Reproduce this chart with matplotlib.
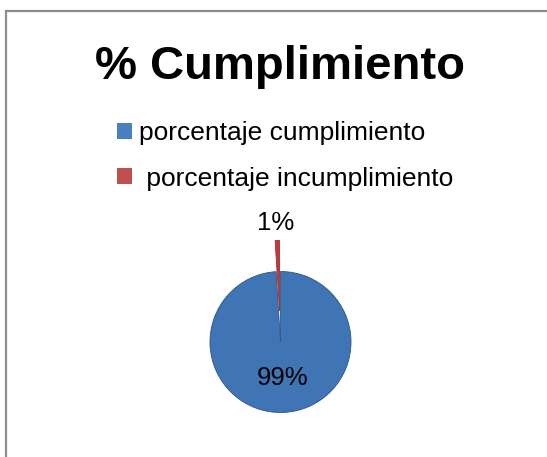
import matplotlib.pyplot as plt
from matplotlib.patches import Rectangle

# datos
categorias = ["porcentaje cumplimiento", " porcentaje incumplimiento"]
valores = [99, 1]
colores = ["#3f74b5", "#c0393b"]
colores_leyenda = ["#4a7fc0", "#c0504d"]
titulo = "% Cumplimiento"

plt.rcParams["font.family"] = ["Liberation Sans", "DejaVu Sans"]

W, H = 547, 457
fig = plt.figure(figsize=(W / 100, H / 100), dpi=100)

# marco gris
fig.add_artist(Rectangle((5.5 / W, -0.1), 2, (H - 10.5) / H + 0.1,
                         transform=fig.transFigure, fill=False,
                         ec="#8c8c8c", lw=1.6))

fig.text(280 / W, 1 - 67 / H, titulo, ha="center", va="center",
         fontsize=34, fontweight="bold")

# pastel: centro (280.5, 342) px, radio 70.5 px
cx, cy, r, m = 280.5, 342, 70.5, 110
ax = fig.add_axes([(cx - m) / W, (H - cy - m) / H, 2 * m / W, 2 * m / H])
wedges, textos, autotextos = ax.pie(
    valores, colors=colores, startangle=90, counterclock=False,
    explode=[0, 0.44], autopct="%1.0f%%", radius=1,
    wedgeprops=dict(edgecolor="#2c5487", linewidth=0.6),
    textprops=dict(fontsize=18.5, color="black"))
wedges[1].set_edgecolor("#a02c2e")
lim = m / r
ax.set_xlim(-lim, lim)
ax.set_ylim(-lim, lim)
ax.set_aspect("equal")
ax.axis("off")

# posiciones de etiquetas
autotextos[0].set_position(((283 - cx) / r, (cy - 378) / r))
autotextos[1].set_position(((276 - cx) / r, (cy - 223) / r))
for t in autotextos:
    t.set_ha("center")
    t.set_va("center")

handles = [Rectangle((0, 0), 1, 1, fc=c, ec="none") for c in colores_leyenda]
fig.legend(handles, categorias, loc="upper left",
           bbox_to_anchor=(117 / W, 1 - 121 / H), frameon=False,
           fontsize=19, handlelength=0.55, handleheight=0.55,
           handletextpad=0.3, labelspacing=0.82, borderpad=0, borderaxespad=0)

fig.savefig("out.png", dpi=100)
